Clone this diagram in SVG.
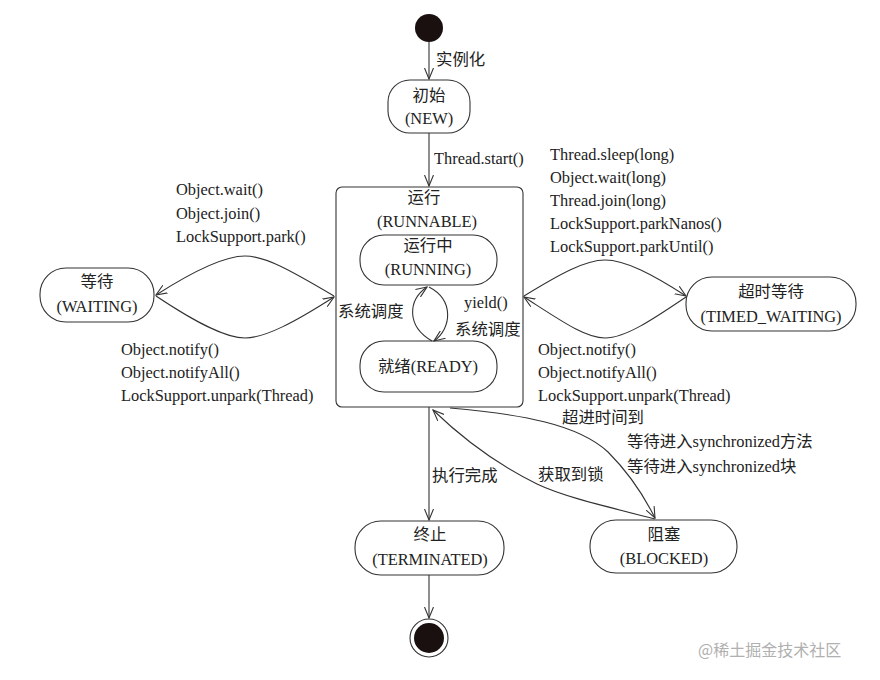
<svg xmlns="http://www.w3.org/2000/svg" width="880" height="680" viewBox="0 0 880 680">
<style>
text{font-family:"Liberation Serif","Noto Sans CJK SC",serif;font-size:16.4px;fill:#222}
.c{text-anchor:middle}
.n{fill:#fff;stroke:#333;stroke-width:1.1}
.e{fill:none;stroke:#333;stroke-width:1.1}
.wm{fill:#b0b0b0;font-family:"Noto Sans CJK SC",sans-serif;font-size:16px}
</style>
<defs>
<marker id="a" markerWidth="12" markerHeight="10" refX="11" refY="5" orient="auto" markerUnits="userSpaceOnUse">
<path d="M0,0.5 L11,5 L0,9.5" fill="none" stroke="#333" stroke-width="1.1"/>
</marker>
</defs>
<rect width="880" height="680" fill="#fff"/>
<g id="start"><circle cx="429" cy="28" r="14" fill="#1a1010"/></g>
<g id="new"><rect class="n" x="388" y="80" width="82" height="53" rx="22"/><text class="c" x="429" y="101">初始</text><text class="c" x="429" y="124">(NEW)</text></g>
<g id="runnable"><rect class="n" x="336" y="187" width="187" height="220" rx="6"/><text class="c" x="424" y="203">运行</text><text class="c" x="427" y="227">(RUNNABLE)</text></g>
<g id="running"><rect class="n" x="360" y="235" width="137" height="50" rx="24"/><text class="c" x="428" y="251">运行中</text><text class="c" x="428" y="275">(RUNNING)</text></g>
<g id="ready"><rect class="n" x="360" y="341" width="137" height="51" rx="24"/><text class="c" x="428" y="372">就绪(READY)</text></g>
<g id="waiting"><rect class="n" x="40" y="268" width="114" height="54" rx="26"/><text class="c" x="97" y="287">等待</text><text class="c" x="97" y="312">(WAITING)</text></g>
<g id="timed"><rect class="n" x="686" y="277" width="170" height="54" rx="26"/><text class="c" x="771" y="297">超时等待</text><text class="c" x="771" y="322">(TIMED_WAITING)</text></g>
<g id="terminated"><rect class="n" x="355" y="521" width="149" height="54" rx="26"/><text class="c" x="430" y="540">终止</text><text class="c" x="430" y="565">(TERMINATED)</text></g>
<g id="blocked"><rect class="n" x="590" y="520" width="147" height="53" rx="26"/><text class="c" x="664" y="540">阻塞</text><text class="c" x="664" y="564">(BLOCKED)</text></g>
<g id="end"><circle cx="429" cy="638" r="19" fill="#fff" stroke="#333" stroke-width="1.1"/><circle cx="429" cy="638" r="15" fill="#1a1010"/></g>
<g id="connectors">
<path class="e" d="M429,42 V79" marker-end="url(#a)"/>
<path class="e" d="M429,133 V186" marker-end="url(#a)"/>
<path class="e" d="M429,407 V520" marker-end="url(#a)"/>
<path class="e" d="M429,575 V618" marker-end="url(#a)"/>
<path class="e" d="M432,341 C406,326 408,300 427,287" marker-end="url(#a)"/>
<path class="e" d="M429,287 C454,300 452,328 434,341" marker-end="url(#a)"/>
<path class="e" d="M334,296 C290,270 265,256 245,256 C225,256 195,270 156,295" marker-end="url(#a)"/>
<path class="e" d="M156,296 C195,322 225,338 245,338 C265,338 295,322 334,297" marker-end="url(#a)"/>
<path class="e" d="M524,296 C560,274 585,260 605,260 C625,260 652,274 686,296" marker-end="url(#a)"/>
<path class="e" d="M686,297 C652,320 625,338 605,338 C585,338 560,320 524,297" marker-end="url(#a)"/>
<path class="e" d="M450,408 C520,414 578,424 608,452 C628,472 645,498 655,518" marker-end="url(#a)"/>
<path class="e" d="M655,519 C600,505 562,496 537,484 C492,462 460,436 433,410" marker-end="url(#a)"/>
</g>
<g id="labels">
<text x="436" y="65">实例化</text>
<text x="434" y="164">Thread.start()</text>
<text x="176" y="195">Object.wait()</text>
<text x="176" y="219">Object.join()</text>
<text x="176" y="242">LockSupport.park()</text>
<text x="121" y="355">Object.notify()</text>
<text x="121" y="378">Object.notifyAll()</text>
<text x="121" y="401">LockSupport.unpark(Thread)</text>
<text x="550" y="160">Thread.sleep(long)</text>
<text x="550" y="183">Object.wait(long)</text>
<text x="550" y="206">Thread.join(long)</text>
<text x="550" y="229">LockSupport.parkNanos()</text>
<text x="550" y="252">LockSupport.parkUntil()</text>
<text x="538" y="355">Object.notify()</text>
<text x="538" y="378">Object.notifyAll()</text>
<text x="538" y="401">LockSupport.unpark(Thread)</text>
<text x="338" y="317">系统调度</text>
<text x="464" y="308">yield()</text>
<text x="455" y="335">系统调度</text>
<text x="562" y="423">超进时间到</text>
<text x="627" y="447">等待进入synchronized方法</text>
<text x="627" y="472">等待进入synchronized块</text>
<text x="538" y="480">获取到锁</text>
<text x="432" y="481">执行完成</text>
<text class="wm" x="698" y="656">@稀土掘金技术社区</text>
</g>
</svg>
